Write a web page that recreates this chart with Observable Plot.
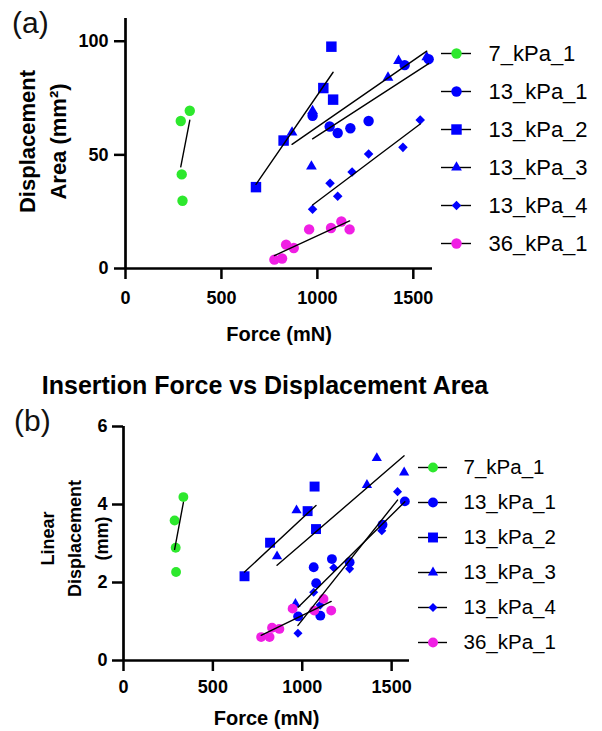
<!DOCTYPE html>
<html><head><meta charset="utf-8">
<script src="https://cdn.jsdelivr.net/npm/d3@7"></script>
<script src="https://cdn.jsdelivr.net/npm/@observablehq/plot@0.6"></script>
<style>
html,body{margin:0;padding:0;background:#fff;}
#page{position:relative;width:602px;height:731px;overflow:hidden;background:#fff;font-family:"Liberation Sans",Arial,sans-serif;color:#000;}
.abs{position:absolute;}
.tag{position:absolute;font-size:30px;line-height:1;color:#111;}
#title{position:absolute;left:0;width:530px;text-align:center;top:373px;font-size:25px;font-weight:bold;line-height:1;}
</style></head><body>
<div id="page">
 <div class="tag" style="left:12px;top:8px">(a)</div>
 <div id="title">Insertion Force vs Displacement Area</div>
 <div class="tag" style="left:14px;top:406px">(b)</div>
 <div class="abs" id="plotA" style="left:0;top:0;width:440px"></div>
 <div class="abs" id="legA" style="left:441px;top:0;width:161px"></div>
 <div class="abs" id="plotB" style="left:0;top:400px;width:420px"></div>
 <div class="abs" id="legB" style="left:418px;top:440px;width:184px"></div>
</div>
<script>
// ---- series definitions ----
const seriesNames = ["7_kPa_1", "13_kPa_1", "13_kPa_2", "13_kPa_3", "13_kPa_4", "36_kPa_1"];
const seriesColors = ["#2de82d", "#0000ff", "#0000ff", "#0000ff", "#0000ff", "#f01fe4"];
const seriesSymbols = ["circle", "circle", "square", "triangle", "diamond2", "circle"];

// ---- tick values ----
const forceTicks = [0, 500, 1000, 1500];
const areaTicks = [0, 50, 100];
const linearTicks = [0, 2, 4, 6];

// ---- panel (a): Displacement Area (mm²) vs Force (mN) ----
const aSeries = [
  "7_kPa_1", "7_kPa_1", "7_kPa_1", "7_kPa_1",
  "13_kPa_1", "13_kPa_1", "13_kPa_1", "13_kPa_1", "13_kPa_1", "13_kPa_1", "13_kPa_1",
  "13_kPa_2", "13_kPa_2", "13_kPa_2", "13_kPa_2", "13_kPa_2",
  "13_kPa_3", "13_kPa_3", "13_kPa_3", "13_kPa_3", "13_kPa_3", "13_kPa_3",
  "13_kPa_4", "13_kPa_4", "13_kPa_4", "13_kPa_4", "13_kPa_4", "13_kPa_4", "13_kPa_4",
  "36_kPa_1", "36_kPa_1", "36_kPa_1", "36_kPa_1", "36_kPa_1", "36_kPa_1", "36_kPa_1", "36_kPa_1"
];
const aForce = [
  335, 288, 293, 297,
  975, 1064, 1106, 1172, 1267, 1455, 1580,
  680, 824, 1031, 1073, 1082,
  868, 969, 975, 1368, 1423, 1570,
  975, 1066, 1106, 1181, 1267, 1446, 1536,
  776, 816, 837, 877, 957, 1071, 1125, 1168
];
const aArea = [
  69.4, 64.9, 41.4, 29.8,
  67.2, 62.5, 59.6, 61.7, 64.9, 89.5, 92.1,
  35.8, 56.3, 79.4, 97.6, 74.3,
  59.9, 44.9, 69.3, 84.0, 91.4, 93.0,
  26.1, 37.5, 31.8, 42.5, 50.4, 53.3, 65.3,
  3.9, 4.4, 10.5, 9.0, 17.2, 17.8, 20.7, 17.2
];

// ---- panel (b): Linear Displacement (mm) vs Force (mN) ----
const bSeries = [
  "7_kPa_1", "7_kPa_1", "7_kPa_1", "7_kPa_1",
  "13_kPa_1", "13_kPa_1", "13_kPa_1", "13_kPa_1", "13_kPa_1", "13_kPa_1", "13_kPa_1", "13_kPa_1",
  "13_kPa_2", "13_kPa_2", "13_kPa_2", "13_kPa_2", "13_kPa_2",
  "13_kPa_3", "13_kPa_3", "13_kPa_3", "13_kPa_3", "13_kPa_3", "13_kPa_3",
  "13_kPa_4", "13_kPa_4", "13_kPa_4", "13_kPa_4", "13_kPa_4", "13_kPa_4", "13_kPa_4",
  "36_kPa_1", "36_kPa_1", "36_kPa_1", "36_kPa_1", "36_kPa_1", "36_kPa_1", "36_kPa_1", "36_kPa_1"
];
const bForce = [
  335, 286, 292, 294,
  977, 1064, 1078, 1101, 1166, 1265, 1449, 1574,
  677, 820, 1030, 1069, 1077,
  859, 962, 968, 1362, 1417, 1570,
  976, 1064, 1100, 1176, 1265, 1445, 1533,
  770, 817, 831, 872, 946, 1067, 1119, 1162
];
const bLinear = [
  4.19, 3.59, 2.89, 2.27,
  1.13, 2.39, 1.98, 1.15, 2.60, 2.52, 3.48, 4.08,
  2.16, 3.02, 3.83, 4.46, 3.37,
  2.67, 1.45, 3.85, 4.50, 5.19, 4.82,
  0.70, 1.75, 1.42, 2.38, 2.35, 3.33, 4.33,
  0.60, 0.60, 0.84, 0.81, 1.33, 1.28, 1.58, 1.28
];

const symbolRadius = {circle: 5.2, square: 5.9, triangle: 4.0, diamond2: 4.3};
const FONT = "'Liberation Sans', Arial, sans-serif";

function panel(o) {
  const data = o.series.map((s, i) => ({series: s, force: o.force[i], value: o.value[i]}));
  const dots = seriesNames.map((s, i) =>
    Plot.dot(data.filter(d => d.series === s), {
      x: "force", y: "value",
      symbol: seriesSymbols[i], fill: seriesColors[i],
      r: symbolRadius[seriesSymbols[i]] * o.scaleR
    })
  );
  return Plot.plot({
    width: o.width, height: o.height,
    marginLeft: o.mL, marginRight: o.mR, marginTop: o.mT, marginBottom: o.mB,
    x: {domain: [0, 1600], label: null},
    y: {domain: o.yDomain, label: null},
    style: {fontFamily: FONT, fontSize: "18px", fontWeight: "bold", color: "#000",
            background: "transparent", overflow: "visible", maxWidth: "none"},
    marks: [
      ...dots,
      Plot.linearRegressionY(data, {x: "force", y: "value", z: "series", stroke: "#000", strokeWidth: 1.4, ci: 0}),
      Plot.ruleY([0], {stroke: "#000", strokeWidth: 2.7}),
      Plot.ruleX([0], {stroke: "#000", strokeWidth: 2.7}),
      Plot.axisX(forceTicks, {tickSize: 11, tickPadding: o.xPad, strokeWidth: 2.5, label: null,
        fontSize: o.tickFont, tickFormat: d => String(d)}),
      Plot.axisY(o.yTicks, {tickSize: 11, tickPadding: o.yPad, strokeWidth: 2.5, label: null,
        fontSize: o.tickFont, tickFormat: d => String(d)}),
      Plot.text(["Force (mN)"], {frameAnchor: "bottom", lineAnchor: "bottom", dy: o.xLabelDy,
        fontSize: 20, fontWeight: "bold"}),
      Plot.text([o.yLabel], {frameAnchor: "left", textAnchor: "middle", rotate: -90, lineAnchor: "middle",
        dx: o.yLabelDx, dy: o.yLabelDy, fontSize: o.yLabelSize, lineHeight: o.yLabelLH, fontWeight: "bold"})
    ]
  });
}

function legend(o) {
  return Plot.plot({
    width: o.width, height: o.height,
    marginTop: o.mT, marginBottom: o.mB, marginLeft: 0, marginRight: o.width - o.lineW,
    x: {domain: [0, 1], axis: null},
    y: {type: "point", domain: seriesNames, padding: 0, axis: null},
    style: {fontFamily: FONT, fontSize: o.fontSize + "px", color: "#000",
            background: "transparent", overflow: "visible", maxWidth: "none"},
    marks: [
      Plot.tickY(seriesNames, {y: d => d, stroke: "#000", strokeWidth: 1.4}),
      ...seriesNames.map((s, i) => Plot.dot([s], {y: d => d, symbol: seriesSymbols[i],
        fill: seriesColors[i], r: symbolRadius[seriesSymbols[i]] * o.scaleR})),
      Plot.text(seriesNames, {y: d => d, frameAnchor: "right", textAnchor: "start",
        dx: o.textDx, fontSize: o.fontSize})
    ]
  });
}

document.getElementById("plotA").append(panel({
  series: aSeries, force: aForce, value: aArea,
  width: 440, height: 350, mL: 125, mR: 8, mT: 18, mB: 82,
  yDomain: [0, 110], yTicks: areaTicks, xPad: 12, yPad: 6, tickFont: 18,
  xLabelDy: 72, yLabel: "Displacement\nArea (mm²)", yLabelSize: 22, yLabelLH: 1.4,
  yLabelDx: -84.5, yLabelDy: -2, scaleR: 1
}));
document.getElementById("plotB").append(panel({
  series: bSeries, force: bForce, value: bLinear,
  width: 420, height: 331, mL: 123, mR: 11, mT: 26, mB: 71,
  yDomain: [0, 6], yTicks: linearTicks, xPad: 9, yPad: 5, tickFont: 18,
  xLabelDy: 64, yLabel: "Linear\nDisplacement\n(mm)", yLabelSize: 18, yLabelLH: 1.5,
  yLabelDx: -51, yLabelDy: -5, scaleR: 0.95
}));
document.getElementById("legA").append(legend({
  width: 161, height: 260, mT: 52, mB: 17, lineW: 30, textDx: 17, fontSize: 22, scaleR: 1
}));
document.getElementById("legB").append(legend({
  width: 184, height: 230, mT: 26, mB: 27.3, lineW: 29, textDx: 16, fontSize: 20.5, scaleR: 0.95
}));
</script>
</body></html>
